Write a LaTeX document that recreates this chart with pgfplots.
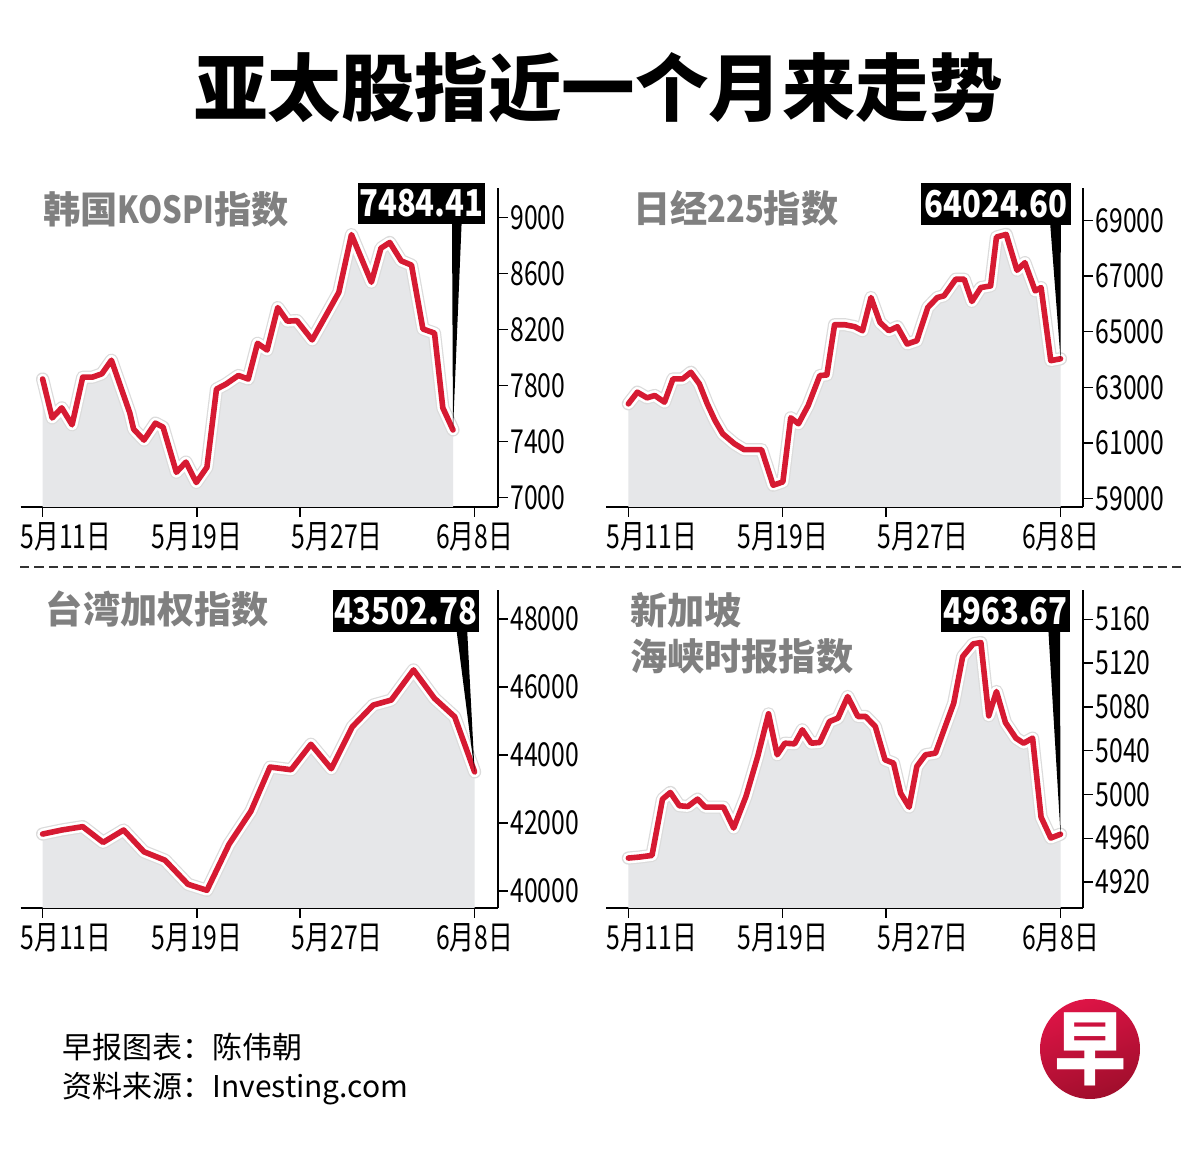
\documentclass[border=0pt]{standalone}
\usepackage{fontspec}
\setmainfont{Noto Sans CJK SC}
\newfontfamily\tickfont[FakeStretch=0.75]{Noto Sans CJK SC}
\newfontfamily\boxfont[FakeStretch=0.84]{Noto Sans CJK SC}
\newfontfamily\titlecond[FakeStretch=0.83]{Noto Sans CJK SC}
\usepackage{pgfplots}
\pgfplotsset{compat=1.18}
\usepackage{pgfplotstable}

\definecolor{lineRed}{RGB}{214,26,50}
\definecolor{fillgray}{RGB}{230,231,233}
\definecolor{titlegray}{RGB}{128,128,128}
\definecolor{logoA}{RGB}{222,20,70}
\definecolor{logoB}{RGB}{160,14,44}

\pgfplotstableread{
x y
0 7848
0.62 7570
1.24 7642
1.91 7521
2.60 7861
3.22 7861
3.84 7885
4.46 7982
5.65 7606
5.90 7490
6.57 7412
7.31 7533
7.81 7504
8.67 7182
9.29 7255
9.96 7109
10.65 7218
11.27 7776
11.89 7812
12.69 7873
13.33 7848
13.93 8103
14.55 8055
15.24 8358
15.86 8261
16.48 8265
17.47 8127
18.34 8297
19.20 8467
20.02 8879
21.31 8539
21.93 8782
22.50 8823
23.24 8692
23.91 8661
24.65 8205
25.40 8176
25.94 7642
26.60 7484.41
}\kospi

\pgfplotstableread{
x y
0 62405
0.58 62823
1.21 62620
1.71 62704
2.34 62465
2.89 63301
3.52 63301
4.05 63540
4.60 63122
5.11 62405
5.61 61808
6.11 61330
6.87 60971
7.50 60756
8.63 60756
9.38 59478
10.01 59597
10.52 61903
11.02 61688
11.65 62345
12.40 63420
12.86 63444
13.36 65248
14.04 65248
14.67 65177
15.17 65033
15.72 66228
16.30 65332
16.88 65033
17.43 65177
18.06 64555
18.69 64675
19.40 65870
20.02 66228
20.45 66288
21.21 66885
21.76 66885
22.26 66085
22.84 66586
23.47 66646
23.85 68402
24.48 68498
25.18 67208
25.69 67482
26.36 66467
26.74 66586
27.37 63958
28.00 64024.60
}\nikkei

\pgfplotstableread{
x y
0 41675
1.24 41793
2.60 41892
3.92 41429
5.25 41793
6.57 41153
7.93 40906
9.42 40197
10.65 40020
12.09 41379
13.50 42345
14.74 43645
16.11 43566
17.39 44315
18.71 43596
20.07 44827
21.43 45468
22.60 45616
24.04 46502
25.40 45665
26.71 45123
28.00 43502.78
}\taiex

\pgfplotstableread{
x y
0 4941.9
0.70 4942.8
1.53 4944.3
2.21 4995.7
2.72 5001.8
3.30 4989.7
3.85 4989.0
4.48 4995.7
4.98 4988.4
5.56 4988.4
6.16 4988.4
6.82 4969.3
7.62 4998.2
8.38 5034.7
9.08 5073.6
9.64 5036.2
10.14 5046.8
10.77 5046.2
11.27 5059.0
11.85 5046.8
12.40 5047.5
13.03 5066.6
13.58 5069.7
14.21 5089.4
14.87 5071.2
15.37 5071.2
16.00 5062.0
16.63 5031.6
17.18 5028.6
17.64 5001.2
18.19 4988.4
18.69 5025.6
19.25 5036.2
19.90 5037.7
20.45 5059.0
21.08 5083.3
21.66 5125.9
22.34 5137.5
22.84 5138.7
23.35 5071.8
23.85 5094.0
24.43 5065.7
25.11 5051.4
25.61 5046.8
26.19 5051.4
26.74 4979.3
27.37 4960.2
28.00 4963.67
}\sti

\pgfplotsset{
  panel/.style={
    scale only axis, width=238.6pt, anchor=south west,
    axis x line=bottom, axis y line=right,
    axis line style={-, line width=1.1pt, black},
    x axis line style={-}, y axis line style={-},
    tick align=outside, major tick length=5pt,
    tick style={line width=0.7pt, black},
    scaled y ticks=false, scaled x ticks=false,
    xtick={0,10,16.68,28},
    xticklabels={{\makebox[0pt][l]{\hspace*{-11pt}5月11日}},5月19日,{\makebox[0pt][l]{\hspace*{-4pt}5月27日}},6月8日},
    ticklabel style={font={\tickfont\fontsize{16.5}{18}\selectfont}},
    xticklabel style={inner sep=1pt, yshift=-1.5pt},
    yticklabel style={inner sep=1pt},
    /pgf/number format/assume math mode=true,
  },
  fillst/.style={fill=fillgray, draw=none},
  shadowst/.style={draw=black!14, line width=6.6pt, line join=round, line cap=round},
  halost/.style={draw=white, line width=5.4pt, line join=round, line cap=round},
  redst/.style={draw=lineRed, line width=2.8pt, line join=round, line cap=round},
}

\newcommand{\boxnum}[1]{{\boxfont\bfseries\fontsize{18.5}{20}\selectfont #1}}
\newcommand{\ptitle}{\bfseries\fontsize{18.6}{22}\selectfont}

\begin{document}
\begin{tikzpicture}
\fill[white] (0,0) rectangle (600pt,580pt);
\useasboundingbox (0,0) rectangle (600pt,580pt);

% main title
\node[anchor=base, inner sep=0, font={\bfseries\fontsize{36.75}{40}\selectfont}] at (299.3pt,522pt) {亚太股指近一个月来走势};

% ---------- Panel 1: KOSPI
\begin{axis}[panel, at={(10.35pt,326.6pt)}, height=159.4pt,
  xmin=-1.42, xmax=29.51, ymin=6935.7, ymax=9212,
  ytick={7000,7400,7800,8200,8600,9000},
  yticklabels={7000,7400,7800,8200,8600,9000}]
\addplot[fillst] table {\kospi} \closedcycle;
\addplot[shadowst] table {\kospi};
\addplot[halost] table {\kospi};
\addplot[redst] table {\kospi};
\coordinate (k1) at (axis cs:26.60,7484.41);
\end{axis}
\node[anchor=base west, inner sep=0, text=titlegray, font=\ptitle] at (21.3pt,468.3pt) {韩国{\titlecond\bfseries KOSPI}指数};
\fill[black] (179.15pt,468pt) rectangle (242.3pt,488.5pt);
\node[text=white, inner sep=0] at (210.7pt,478.25pt) {\boxnum{7484.41}};
\fill[black] (226pt,468.5pt) -- (230.8pt,468.5pt) -- (k1) -- cycle;

% ---------- Panel 2: Nikkei
\begin{axis}[panel, at={(303pt,326.6pt)}, height=159.4pt,
  xmin=-1.45, xmax=29.47, ymin=58702, ymax=70167,
  ytick={59000,61000,63000,65000,67000,69000},
  yticklabels={59000,61000,63000,65000,67000,69000}]
\addplot[fillst] table {\nikkei} \closedcycle;
\addplot[shadowst] table {\nikkei};
\addplot[halost] table {\nikkei};
\addplot[redst] table {\nikkei};
\coordinate (k2) at (axis cs:28,64024.60);
\end{axis}
\node[anchor=base west, inner sep=0, text=titlegray, font=\ptitle] at (316.3pt,468.8pt) {日经{\titlecond\bfseries 225}指数};
\fill[black] (460.5pt,467.5pt) rectangle (535.5pt,488.6pt);
\node[text=white, inner sep=0] at (498pt,478.05pt) {\boxnum{64024.60}};
\fill[black] (525.1pt,468pt) -- (530.4pt,468pt) -- (k2) -- cycle;

% separator
\draw[black!80, line width=1pt, dash pattern=on 4.7pt off 2.5pt] (10pt,296.6pt) -- (591pt,296.6pt);

% ---------- Panel 3: Taiwan
\begin{axis}[panel, at={(10.35pt,126pt)}, height=159pt,
  xmin=-1.42, xmax=29.51, ymin=39500, ymax=48853,
  ytick={40000,42000,44000,46000,48000},
  yticklabels={40000,42000,44000,46000,48000}]
\addplot[fillst] table {\taiex} \closedcycle;
\addplot[shadowst] table {\taiex};
\addplot[halost] table {\taiex};
\addplot[redst] table {\taiex};
\coordinate (k3) at (axis cs:28,43502.78);
\end{axis}
\node[anchor=base west, inner sep=0, text=titlegray, font=\ptitle] at (22.8pt,268.3pt) {台湾加权指数};
\fill[black] (166.3pt,264.15pt) rectangle (239.4pt,285pt);
\node[text=white, inner sep=0] at (202.85pt,274.6pt) {\boxnum{43502.78}};
\fill[black] (228.3pt,264.6pt) -- (233.6pt,264.6pt) -- (k3) -- cycle;

% ---------- Panel 4: STI
\begin{axis}[panel, at={(303pt,126pt)}, height=159pt,
  xmin=-1.45, xmax=29.47, ymin=4896.3, ymax=5186.7,
  ytick={4920,4960,5000,5040,5080,5120,5160},
  yticklabels={4920,4960,5000,5040,5080,5120,5160}]
\addplot[fillst] table {\sti} \closedcycle;
\addplot[shadowst] table {\sti};
\addplot[halost] table {\sti};
\addplot[redst] table {\sti};
\coordinate (k4) at (axis cs:28,4963.67);
\end{axis}
\node[anchor=base west, inner sep=0, text=titlegray, font=\ptitle] at (314.8pt,267.8pt) {新加坡};
\node[anchor=base west, inner sep=0, text=titlegray, font=\ptitle] at (314.8pt,244.5pt) {海峡时报指数};
\fill[black] (470.4pt,264.15pt) rectangle (535.2pt,285pt);
\node[text=white, inner sep=0] at (502.8pt,274.6pt) {\boxnum{4963.67}};
\fill[black] (524.2pt,264.6pt) -- (530pt,264.6pt) -- (k4) -- cycle;

% footer
\node[anchor=base west, inner sep=0, font={\fontsize{15}{17}\selectfont}] at (31pt,50.6pt) {早报图表：陈伟朝};
\node[anchor=base west, inner sep=0, font={\fontsize{15}{17}\selectfont}] at (31pt,31.3pt) {资料来源：Investing.com};

% logo
\shade[shading=axis, top color=logoA, bottom color=logoB, shading angle=20] (545pt,55.5pt) circle (25pt);
\node[text=white, inner sep=0, yscale=1.12, font={\bfseries\fontsize{36}{36}\selectfont}] at (545pt,55.5pt) {早};
\end{tikzpicture}
\end{document}
